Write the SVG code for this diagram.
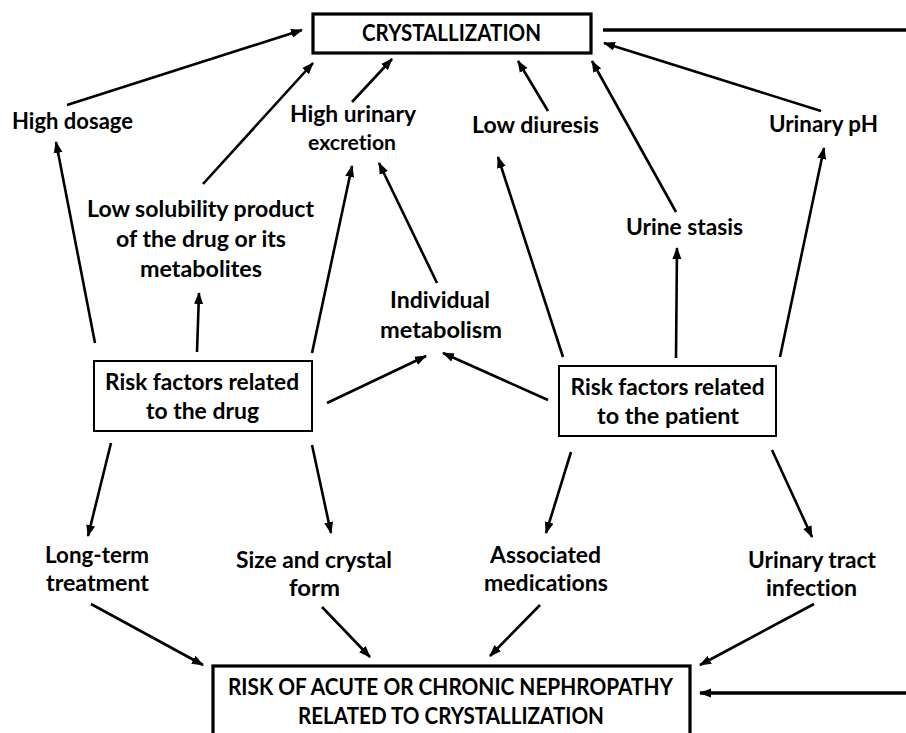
<svg xmlns="http://www.w3.org/2000/svg" width="906" height="733" viewBox="0 0 906 733">
<style>
text{font-family:Lato,"Liberation Sans",Arial,sans-serif;font-weight:bold;font-size:23px;fill:#000;text-anchor:middle;font-variant-ligatures:none}
.sm{font-size:21px}
.box{fill:#fff;stroke:#000;stroke-width:2}
.bbox{fill:#fff;stroke:#000;stroke-width:3.2}
.c line{stroke:#000;stroke-width:2.6;marker-end:url(#ah)}
.c line.plain{marker-end:none;stroke-width:3.4}
.c line.thick{stroke-width:3.4}
</style>
<defs>
<marker id="ah" markerUnits="userSpaceOnUse" markerWidth="12" markerHeight="10" refX="11" refY="5" orient="auto">
<path d="M0,0.5 L12,5 L0,9.5 z" fill="#000"/>
</marker>
</defs>
<rect width="906" height="733" fill="#fff"/>
<g class="c" id="connectors">
<line x1="67" y1="105" x2="302" y2="30"/>
<line x1="203" y1="184" x2="313" y2="63"/>
<line x1="352" y1="102" x2="392" y2="59"/>
<line x1="548" y1="111" x2="518" y2="61"/>
<line x1="676" y1="212" x2="592" y2="61"/>
<line x1="821" y1="111" x2="604" y2="43"/>
<line class="plain" x1="603" y1="30" x2="906" y2="30"/>
<line x1="95" y1="343" x2="56" y2="142"/>
<line x1="197" y1="352" x2="199" y2="293"/>
<line x1="312" y1="353" x2="352" y2="166"/>
<line x1="437" y1="283" x2="379" y2="163"/>
<line x1="327" y1="403" x2="426" y2="356"/>
<line x1="548" y1="400" x2="443" y2="353"/>
<line x1="563" y1="357" x2="498" y2="157"/>
<line x1="676" y1="358" x2="677" y2="248"/>
<line x1="780" y1="357" x2="824" y2="148"/>
<line x1="111" y1="443" x2="88" y2="536"/>
<line x1="312" y1="445" x2="331" y2="533"/>
<line x1="571" y1="452" x2="546" y2="533"/>
<line x1="772" y1="450" x2="812" y2="537"/>
<line x1="91" y1="604" x2="203" y2="665"/>
<line x1="322" y1="607" x2="370" y2="657"/>
<line x1="540" y1="605" x2="490" y2="656"/>
<line x1="814" y1="604" x2="700" y2="665"/>
<line class="thick" x1="906" y1="693" x2="700" y2="693"/>
</g>
<g id="crystallization">
<rect class="bbox" x="313" y="14" width="278" height="39"/>
<text x="451.5" y="41" textLength="179" lengthAdjust="spacingAndGlyphs">CRYSTALLIZATION</text>
</g>
<g id="high-dosage">
<text x="72.5" y="129" textLength="121" lengthAdjust="spacingAndGlyphs">High dosage</text>
</g>
<g id="high-urinary-excretion">
<text x="353" y="122" textLength="126" lengthAdjust="spacingAndGlyphs">High urinary</text>
<text class="sm" x="352" y="150" textLength="88" lengthAdjust="spacingAndGlyphs">excretion</text>
</g>
<g id="low-diuresis">
<text x="535.5" y="133" textLength="127" lengthAdjust="spacingAndGlyphs">Low diuresis</text>
</g>
<g id="urinary-ph">
<text x="823.5" y="132" textLength="109" lengthAdjust="spacingAndGlyphs">Urinary pH</text>
</g>
<g id="low-solubility">
<text x="200.5" y="217" textLength="227" lengthAdjust="spacingAndGlyphs">Low solubility product</text>
<text x="201" y="247" textLength="170" lengthAdjust="spacingAndGlyphs">of the drug or its</text>
<text x="201" y="277" textLength="122" lengthAdjust="spacingAndGlyphs">metabolites</text>
</g>
<g id="urine-stasis">
<text x="684.5" y="235" textLength="117" lengthAdjust="spacingAndGlyphs">Urine stasis</text>
</g>
<g id="individual-metabolism">
<text x="440" y="308" textLength="100" lengthAdjust="spacingAndGlyphs">Individual</text>
<text x="441" y="338" textLength="122" lengthAdjust="spacingAndGlyphs">metabolism</text>
</g>
<g id="drug-factors">
<rect class="box" x="94" y="361" width="218" height="70"/>
<text x="202" y="390" textLength="194" lengthAdjust="spacingAndGlyphs">Risk factors related</text>
<text x="202.5" y="419" textLength="113" lengthAdjust="spacingAndGlyphs">to the drug</text>
</g>
<g id="patient-factors">
<rect class="box" x="559" y="366" width="217" height="70"/>
<text x="667.5" y="395" textLength="194" lengthAdjust="spacingAndGlyphs">Risk factors related</text>
<text x="668" y="424" textLength="142" lengthAdjust="spacingAndGlyphs">to the patient</text>
</g>
<g id="long-term">
<text x="97" y="563" textLength="104" lengthAdjust="spacingAndGlyphs">Long-term</text>
<text x="97.5" y="591" textLength="103" lengthAdjust="spacingAndGlyphs">treatment</text>
</g>
<g id="size-crystal">
<text x="314" y="568" textLength="156" lengthAdjust="spacingAndGlyphs">Size and crystal</text>
<text x="314.5" y="596" textLength="51" lengthAdjust="spacingAndGlyphs">form</text>
</g>
<g id="associated-medications">
<text x="545.5" y="563" textLength="111" lengthAdjust="spacingAndGlyphs">Associated</text>
<text x="546" y="591" textLength="124" lengthAdjust="spacingAndGlyphs">medications</text>
</g>
<g id="urinary-tract-infection">
<text x="812" y="568" textLength="128" lengthAdjust="spacingAndGlyphs">Urinary tract</text>
<text x="811.5" y="596" textLength="91" lengthAdjust="spacingAndGlyphs">infection</text>
</g>
<g id="nephropathy">
<rect class="bbox" x="213" y="666" width="477" height="90"/>
<text x="450.5" y="695" textLength="445" lengthAdjust="spacingAndGlyphs">RISK OF ACUTE OR CHRONIC NEPHROPATHY</text>
<text x="451" y="724" textLength="306" lengthAdjust="spacingAndGlyphs">RELATED TO CRYSTALLIZATION</text>
</g>
</svg>
